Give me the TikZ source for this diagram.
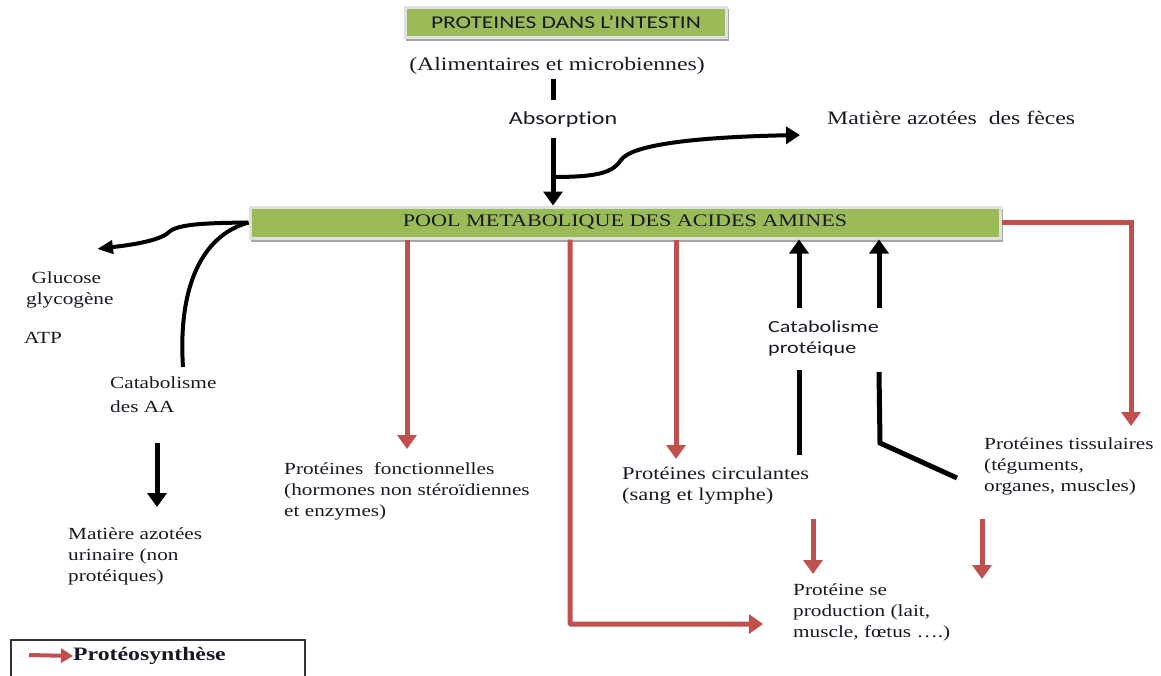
\documentclass[tikz,border=0pt]{standalone}
\usepackage{fontspec}
\setmainfont{Liberation Serif}[FakeStretch=1.25]
\setsansfont{Carlito}[FakeStretch=1.3, Ligatures=NoCommon]
\usetikzlibrary{arrows.meta}
\definecolor{poolgreen}{RGB}{155,187,89}
\definecolor{synth}{RGB}{192,80,77}
\definecolor{ink}{RGB}{25,25,38}

\begin{document}
\begin{tikzpicture}[x=1pt, y=-1pt,
    box/.style={fill=poolgreen, draw=black!12, line width=3pt, inner sep=0pt,
                text=ink, preaction={draw=black!35, line width=2pt,
                transform canvas={shift={(1.5pt,-2.5pt)}}}},
    ser/.style={font=\fontsize{17}{21}\selectfont, text=ink, inner sep=0pt, align=left},
    sans/.style={font=\sffamily\fontsize{17}{21}\selectfont, text=ink, inner sep=0pt, align=left},
    blk/.style={draw=black, line width=5pt},
    blkarr/.style={blk, -{Triangle[length=14pt,width=19pt]}},
    curv/.style={draw=black, line width=4pt},
    prot/.style={draw=synth, line width=5pt, -{Triangle[length=14pt,width=19pt]}},
    legbox/.style={draw=black!80, line width=1.5pt, inner sep=0pt}]
  \useasboundingbox (0,0) rectangle (1161,675);

  \node[box, minimum width=321, minimum height=30,
        font=\sffamily\fontsize{18}{20}\selectfont] (intestin) at (566,22.5)
        {PROTEINES DANS L’INTESTIN};
  \node[ser, font=\fontsize{19}{21}\selectfont] (alim) at (557,66) {(Alimentaires et microbiennes)};
  \node[sans, font=\sffamily\fontsize{18.5}{21}\selectfont] (absorp) at (563,120) {Absorption};
  \node[box, minimum width=750, minimum height=31,
        font=\fontsize{17.7}{20}\selectfont] (pool) at (625,222.5)
        {POOL METABOLIQUE DES ACIDES AMINES};
  \node[ser, anchor=west, font=\fontsize{19}{21}\selectfont] (feces) at (827,118)
        {Matière azotées\ \ des fèces};

  \node[ser, anchor=west] (glucose) at (26,290) {\ Glucose\\glycogène};
  \node[ser, anchor=west] (atp) at (24,338) {ATP};
  \node[ser, anchor=west, font=\fontsize{17}{24}\selectfont] (catAA) at (110,395)
        {Catabolisme\\des AA};
  \node[ser, anchor=west] (urine) at (68,556)
        {Matière azotées\\urinaire (non\\protéiques)};
  \node[ser, anchor=west] (fonct) at (284,491)
        {Protéines\ \ fonctionnelles\\(hormones non stéroïdiennes\\et enzymes)};
  \node[ser, anchor=west, font=\fontsize{18}{21}\selectfont] (circ) at (622,486)
        {Protéines circulantes\\(sang et lymphe)};
  \node[sans, anchor=west] (catprot) at (768,338) {Catabolisme\\protéique};
  \node[ser, anchor=west] (tiss) at (984,466)
        {Protéines tissulaires\\(téguments,\\organes, muscles)};
  \node[ser, anchor=west] (prod) at (793,612)
        {Protéine se\\production (lait,\\muscle, fœtus ….)};

  \node[legbox, minimum width=294, minimum height=60, anchor=north west] (legend) at (10,639) {};
  \node[ser, anchor=west, font=\bfseries\fontsize{19}{21}\selectfont] (legtxt) at (73,656)
        {Protéosynthèse};

  \coordinate (alim0) at (553,79);
  \coordinate (abs0) at (553,138);
  \coordinate (tee) at (553,177);
  \coordinate (fecIn) at (800,135);
  \coordinate (gluIn) at (97,249);
  \coordinate (catAAtop) at (183,367);
  \coordinate (urin0) at (157,443);
  \coordinate (urinIn) at (157,507);
  \coordinate (fonctIn) at (407,449);
  \coordinate (circIn) at (676,459);
  \coordinate (prodLeft) at (570,0);
  \coordinate (prodIn) at (763,624);
  \coordinate (tissIn) at (1131,426);
  \coordinate (cp1) at (799,308);
  \coordinate (cp2) at (879,308);
  \coordinate (cp1b) at (799,370);
  \coordinate (cp2b) at (879,372);
  \coordinate (cpKnee) at (880,443);
  \coordinate (cpEnd) at (957,478);
  \coordinate (prA) at (813,519);
  \coordinate (prAIn) at (813,574);
  \coordinate (prB) at (982,519);
  \coordinate (prBIn) at (982,579);
  \coordinate (legA) at (29,655);

  \draw[blk] (alim0) -- ++(0,21);
  \draw[blkarr] (abs0) -- (pool.north -| abs0);
  \draw[curv, -{Triangle[length=14pt,width=17pt]}] (tee)
        .. controls (600,177) and (613,172) .. (621,160)
        .. controls (632,144) and (700,137) .. (fecIn);

  \draw[curv, -{Triangle[length=16pt,width=13pt]}] (pool.west)
        .. controls (205,223) and (178,224) .. (169,232)
        .. controls (160,241) and (130,245) .. (gluIn);
  \draw[curv] (pool.west) .. controls (200,236) and (178,290) .. (catAAtop);
  \draw[blkarr] (urin0) -- (urinIn);

  \draw[prot] (pool.south -| fonctIn) -- (fonctIn);
  \draw[prot] (pool.south -| circIn) -- (circIn);
  \draw[prot, rounded corners=1pt] (pool.south -| prodLeft) |- (prodIn);
  \draw[prot] (pool.east) -| (tissIn);

  \draw[blkarr] (cp1) -- (pool.south -| cp1);
  \draw[blkarr] (cp2) -- (pool.south -| cp2);
  \draw[blk] (cp1b) -- ++(0,85);
  \draw[blk] (cp2b) -- (cpKnee) -- (cpEnd);

  \draw[prot] (prA) -- (prAIn);
  \draw[prot] (prB) -- (prBIn);

  \draw[draw=synth, line width=4pt, -{Triangle[length=12pt,width=14pt]}] (legA) -- (legtxt.west);
\end{tikzpicture}
\end{document}
